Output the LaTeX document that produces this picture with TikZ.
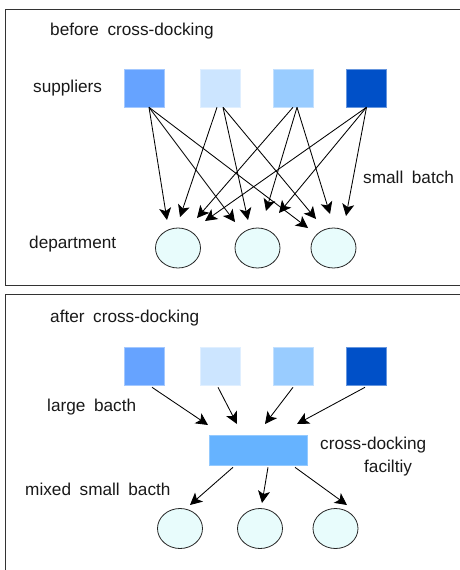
\documentclass[tikz,border=0pt]{standalone}
\usepackage{fontspec}
\setmainfont{Liberation Sans}[WordSpace=1.8]
\usetikzlibrary{arrows.meta,calc,shapes.geometric}
\definecolor{supA}{HTML}{66A3FF}
\definecolor{supB}{HTML}{CCE5FF}
\definecolor{supC}{HTML}{99CCFF}
\definecolor{supD}{HTML}{0050C8}
\definecolor{facil}{HTML}{66B3FF}
\definecolor{deptfill}{HTML}{E8FCFC}
\definecolor{framec}{HTML}{333333}
\tikzset{
  lbl/.style={anchor=west,inner sep=0pt,font=\fontsize{17.2}{19}\selectfont,text=black!90},
  supbox/.style={minimum width=40pt,minimum height=38pt,inner sep=0pt,fill=#1,draw=#1!60!white,line width=0.6pt},
  dept/.style={ellipse,minimum width=45pt,minimum height=40pt,inner sep=0pt,fill=deptfill,draw=black!85,line width=0.8pt},
  flow/.style={-{Stealth[length=12pt,width=12pt,inset=3pt]},line width=0.85pt,black},
  panel/.style={draw=framec,line width=1pt}
}
\begin{document}
\begin{tikzpicture}[x=1pt,y=-1pt]
\useasboundingbox (0,0) rectangle (460,570);
\clip (0,0) rectangle (460,570);
% frames
\draw[panel] (5,9) rectangle (480,285);
\draw[panel] (5,294) rectangle (480,590);

% ---------- top panel ----------
\node[lbl] (t1) at (50,31) {before cross-docking};
\node[lbl] (t2) at (33,88) {suppliers};
\node[lbl] (t3) at (29,244) {department};
\node[lbl] (t4) at (363,177) {small batch};

\node[supbox=supA] (a1) at (144,88) {};
\node[supbox=supB] (a2) at (220,88) {};
\node[supbox=supC] (a3) at (293,88) {};
\node[supbox=supD] (a4) at (366.5,88) {};

\node[dept] (d1) at (178,248) {};
\node[dept] (d2) at (257.5,248) {};
\node[dept] (d3) at (333.5,248) {};

\coordinate (e1) at (167,220);
\coordinate (e2) at (180,217);
\coordinate (e3) at (197,218);
\coordinate (e4) at (205,221);
\coordinate (e5) at (235,222);
\coordinate (e6) at (248,220);
\coordinate (e7) at (266,211);
\coordinate (e8) at (279,213);
\coordinate (e9) at (308,228);
\coordinate (e10) at (316,219);
\coordinate (e11) at (330,214);
\coordinate (e12) at (346,216);

\draw[flow] ($(a1.south)+(5,0)$) -- (e1);
\draw[flow] ($(a1.south)+(5,0)$) -- (e5);
\draw[flow] ($(a1.south)+(5,0)$) -- (e9);
\draw[flow] ($(a2.south)+(-3,0)$) -- (e2);
\draw[flow] ($(a2.south)+(3,0)$) -- (e6);
\draw[flow] ($(a2.south)+(3,0)$) -- (e10);
\draw[flow] ($(a3.south)+(0,0)$) -- (e3);
\draw[flow] ($(a3.south)+(4,0)$) -- (e7);
\draw[flow] ($(a3.south)+(4,0)$) -- (e11);
\draw[flow] ($(a4.south)+(0,0)$) -- (e4);
\draw[flow] ($(a4.south)+(0,0)$) -- (e8);
\draw[flow] ($(a4.south)+(0,0)$) -- (e12);

% ---------- bottom panel ----------
\node[lbl] (b1) at (50,318) {after cross-docking};
\node[lbl] (b2) at (47,407) {large bacth};
\node[lbl] (b3) at (25,489) {mixed small bacth};
\node[lbl] (b4) at (320,445) {cross-docking};
\node[lbl] (b5) at (364,468) {faciltiy};

\node[supbox=supA] (s1) at (144,366) {};
\node[supbox=supB] (s2) at (220,366) {};
\node[supbox=supC] (s3) at (293,366) {};
\node[supbox=supD] (s4) at (366.5,366) {};

\node[minimum width=98pt,minimum height=30pt,inner sep=0pt,fill=facil,draw=facil!70!white,line width=0.6pt] (fac) at (258,450) {};

\node[dept] (c1) at (180,528.5) {};
\node[dept] (c2) at (260,528.5) {};
\node[dept] (c3) at (335.5,528.5) {};

\coordinate (f1) at (208,425);
\coordinate (f2) at (237,424);
\coordinate (f3) at (265,424);
\coordinate (f4) at (297,424);
\coordinate (g1) at (190,505);
\coordinate (g2) at (262,503);
\coordinate (g3) at (347,505);

\draw[flow] ($(s1.south)+(8,2)$) -- (f1);
\draw[flow] ($(s2.south)+(-2,2)$) -- (f2);
\draw[flow] ($(s3.south)+(0,2)$) -- (f3);
\draw[flow] ($(s4.south)+(-1.5,2)$) -- (f4);
\draw[flow] ($(fac.south)+(-25,2)$) -- (g1);
\draw[flow] ($(fac.south)+(10,2)$) -- (g2);
\draw[flow] ($(fac.south)+(37,2)$) -- (g3);
\end{tikzpicture}
\end{document}
